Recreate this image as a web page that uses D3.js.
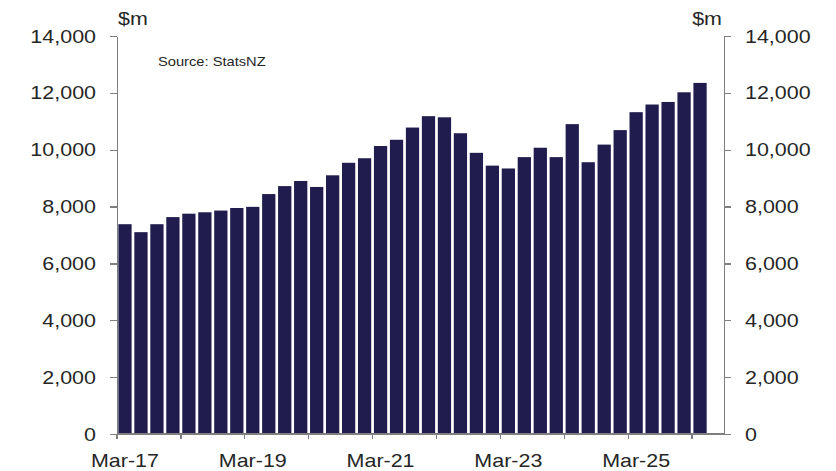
<!DOCTYPE html>
<html>

<head>
  <meta charset="utf-8">
  <title>Quarterly values, $m</title>
  <style>
    body {
      margin: 0;
      background-color: #fff;
      font-family: 'Liberation Sans', Arial, sans-serif;
    }

    text {
      fill: #262626;
    }

    .axis path,
    .axis line {
      stroke: #7f7f7f;
      stroke-width: 1.3px;
      shape-rendering: crispEdges;
    }

    /* the source picture is slightly stretched horizontally */
    .wide-end {
      transform-box: fill-box;
      transform-origin: right center;
      transform: scaleX(1.13);
    }

    .wide-start {
      transform-box: fill-box;
      transform-origin: left center;
      transform: scaleX(1.13);
    }

    .wide-mid {
      transform-box: fill-box;
      transform-origin: center center;
      transform: scaleX(1.13);
    }
  </style>
</head>

<body>
  <div id="chart"></div>
  <script src="https://cdn.jsdelivr.net/npm/d3@7"></script>

  <script>
    // quarterly categories, last slot is empty
    var quarters = [
      'Mar-17', 'Jun-17', 'Sep-17', 'Dec-17',
      'Mar-18', 'Jun-18', 'Sep-18', 'Dec-18',
      'Mar-19', 'Jun-19', 'Sep-19', 'Dec-19',
      'Mar-20', 'Jun-20', 'Sep-20', 'Dec-20',
      'Mar-21', 'Jun-21', 'Sep-21', 'Dec-21',
      'Mar-22', 'Jun-22', 'Sep-22', 'Dec-22',
      'Mar-23', 'Jun-23', 'Sep-23', 'Dec-23',
      'Mar-24', 'Jun-24', 'Sep-24', 'Dec-24',
      'Mar-25', 'Jun-25', 'Sep-25', 'Dec-25',
      'Mar-26', 'Jun-26'
    ];

    var values = [
      7380, 7100, 7380, 7630,
      7750, 7800, 7860, 7950,
      7990, 8440, 8720, 8900,
      8690, 9100, 9540, 9700,
      10130, 10350, 10780, 11180,
      11140, 10580, 9890, 9440,
      9340, 9740, 10070, 9740,
      10900, 9560, 10180, 10690,
      11320, 11590, 11680, 12020,
      12350, null
    ];

    var xLabels = ['Mar-17', 'Mar-19', 'Mar-21', 'Mar-23', 'Mar-25'];
    var yTicks = [0, 2000, 4000, 6000, 8000, 10000, 12000, 14000];

    var data = quarters.map(function(q, i) {
      return { q: q, v: values[i] };
    });

    var width = 836,
      height = 471;
    var margin = { top: 36, right: 112, bottom: 37, left: 117 };
    var barColor = '#201d4e';

    var svg = d3.select('#chart').append('svg')
      .attr('width', width)
      .attr('height', height);

    var x = d3.scaleBand()
      .domain(quarters)
      .range([margin.left, width - margin.right])
      .paddingInner(0.17)
      .paddingOuter(0.085);

    var y = d3.scaleLinear()
      .domain([0, 14000])
      .range([height - margin.bottom, margin.top]);

    // bars
    svg.append('g')
      .selectAll('rect')
      .data(data.filter(function(d) { return d.v != null; }))
      .enter().append('rect')
      .attr('x', function(d) { return x(d.q); })
      .attr('y', function(d) { return y(d.v); })
      .attr('width', x.bandwidth())
      .attr('height', function(d) { return y(0) - y(d.v); })
      .style('fill', barColor);

    // left axis
    var left = svg.append('g')
      .attr('class', 'axis')
      .attr('transform', 'translate(' + margin.left + ',0)')
      .call(d3.axisLeft(y).tickValues(yTicks).tickFormat(d3.format(','))
        .tickSize(7).tickSizeOuter(0).tickPadding(14));
    left.selectAll('text').attr('class', 'wide-end')
      .style('font-size', '19px').style('font-family', 'Liberation Sans, Arial, sans-serif');

    // right axis
    var right = svg.append('g')
      .attr('class', 'axis')
      .attr('transform', 'translate(' + (width - margin.right) + ',0)')
      .call(d3.axisRight(y).tickValues(yTicks).tickFormat(d3.format(','))
        .tickSize(7).tickSizeOuter(0).tickPadding(14));
    right.selectAll('text').attr('class', 'wide-start')
      .style('font-size', '19px').style('font-family', 'Liberation Sans, Arial, sans-serif');

    // x axis: ticks at yearly band edges, labels every two years
    var step = x.step();
    var xAxis = svg.append('g').attr('class', 'axis');

    xAxis.append('line')
      .attr('x1', margin.left)
      .attr('x2', width - margin.right)
      .attr('y1', y(0))
      .attr('y2', y(0));

    xAxis.selectAll('line.tick')
      .data(quarters.filter(function(q, i) { return i % 4 == 0; }))
      .enter().append('line')
      .attr('class', 'tick')
      .attr('x1', function(q) { return x(q) - step * x.paddingInner() / 2; })
      .attr('x2', function(q) { return x(q) - step * x.paddingInner() / 2; })
      .attr('y1', y(0))
      .attr('y2', y(0) + 5);

    xAxis.selectAll('text')
      .data(xLabels)
      .enter().append('text')
      .attr('class', 'wide-mid')
      .attr('x', function(q) { return x(q) + x.bandwidth() / 2; })
      .attr('y', y(0) + 33)
      .attr('text-anchor', 'middle')
      .style('font-size', '19px')
      .text(function(q) { return q; });

    // unit labels
    svg.append('text')
      .attr('class', 'wide-start')
      .attr('x', 118)
      .attr('y', 25)
      .style('font-size', '19px')
      .text('$m');

    svg.append('text')
      .attr('class', 'wide-end')
      .attr('x', 722)
      .attr('y', 25)
      .attr('text-anchor', 'end')
      .style('font-size', '19px')
      .text('$m');

    svg.append('text')
      .attr('class', 'wide-start')
      .attr('x', 158)
      .attr('y', 66.5)
      .style('font-size', '13px')
      .text('Source: StatsNZ');
  </script>
</body>

</html>
